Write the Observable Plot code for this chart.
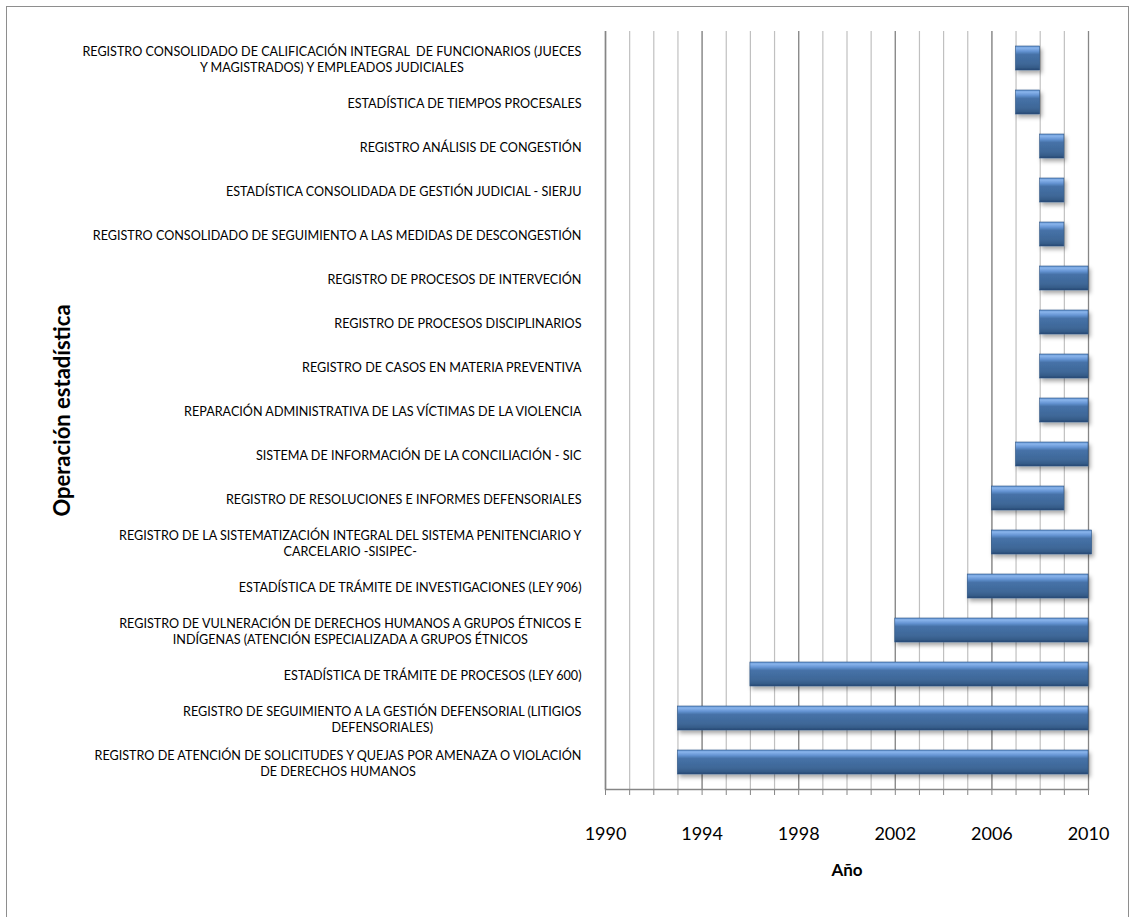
<!DOCTYPE html>
<html>
<head>
<meta charset="utf-8">
<script src="https://cdn.jsdelivr.net/npm/d3@7"></script>
<script src="https://cdn.jsdelivr.net/npm/@observablehq/plot@0.6"></script>
<style>
  html, body { margin: 0; padding: 0; background: #fff; }
  #wrap { position: relative; width: 1132px; height: 917px; overflow: hidden; }
  #border { position: absolute; left: 6px; top: 6px; width: 1123px; height: 940px; border: 1px solid #8e8e8e; box-sizing: border-box; pointer-events: none; }
  svg { font-family: Lato, "Open Sans", sans-serif; }
</style>
</head>
<body>
<div id="wrap"><div id="border"></div></div>
<script>
const operaciones = [
  "REGISTRO CONSOLIDADO DE CALIFICACIÓN INTEGRAL  DE FUNCIONARIOS (JUECES\nY MAGISTRADOS) Y EMPLEADOS JUDICIALES",
  "ESTADÍSTICA DE TIEMPOS PROCESALES",
  "REGISTRO ANÁLISIS DE CONGESTIÓN",
  "ESTADÍSTICA CONSOLIDADA DE GESTIÓN JUDICIAL - SIERJU",
  "REGISTRO CONSOLIDADO DE SEGUIMIENTO A LAS MEDIDAS DE DESCONGESTIÓN",
  "REGISTRO DE PROCESOS DE INTERVECIÓN",
  "REGISTRO DE PROCESOS DISCIPLINARIOS",
  "REGISTRO DE CASOS EN MATERIA PREVENTIVA",
  "REPARACIÓN ADMINISTRATIVA DE LAS VÍCTIMAS DE LA VIOLENCIA",
  "SISTEMA DE INFORMACIÓN DE LA CONCILIACIÓN - SIC",
  "REGISTRO DE RESOLUCIONES E INFORMES DEFENSORIALES",
  "REGISTRO DE LA SISTEMATIZACIÓN INTEGRAL DEL SISTEMA PENITENCIARIO Y\nCARCELARIO -SISIPEC-",
  "ESTADÍSTICA DE TRÁMITE DE INVESTIGACIONES (LEY 906)",
  "REGISTRO DE VULNERACIÓN DE DERECHOS HUMANOS A GRUPOS ÉTNICOS E\nINDÍGENAS (ATENCIÓN ESPECIALIZADA A GRUPOS ÉTNICOS",
  "ESTADÍSTICA DE TRÁMITE DE PROCESOS (LEY 600)",
  "REGISTRO DE SEGUIMIENTO A LA GESTIÓN DEFENSORIAL (LITIGIOS\nDEFENSORIALES)",
  "REGISTRO DE ATENCIÓN DE SOLICITUDES Y QUEJAS POR AMENAZA O VIOLACIÓN\nDE DERECHOS HUMANOS"
];
const inicio = [2007, 2007, 2008, 2008, 2008, 2008, 2008, 2008, 2008, 2007, 2006, 2006, 2005, 2002, 1996, 1993, 1993];
const fin    = [2008, 2008, 2009, 2009, 2009, 2010, 2010, 2010, 2010, 2010, 2009, 2010.15, 2010, 2010, 2010, 2010, 2010];
const anios = d3.range(1990, 2011);
const aniosEtiqueta = [1990, 1994, 1998, 2002, 2006, 2010];
const tituloX = "Año";
const tituloY = "Operación estadística";

const data = operaciones.map((o, i) => ({operacion: o, inicio: inicio[i], fin: fin[i]}));

const defs = () => {
  const d = d3.create("svg:defs");
  const g = d.append("linearGradient").attr("id", "barGrad").attr("x1", 0).attr("y1", 0).attr("x2", 0).attr("y2", 1);
  [[0, "#5b8ccb"], [0.08, "#8ab5ec"], [0.22, "#6594d3"], [0.35, "#4672a8"], [0.75, "#3e6797"], [0.9, "#355b88"], [1, "#264670"]]
    .forEach(([o, c]) => g.append("stop").attr("offset", o).attr("stop-color", c));
  const f = d.append("filter").attr("id", "shadow").attr("x", "-10%").attr("y", "-30%").attr("width", "130%").attr("height", "180%");
  f.append("feDropShadow").attr("dx", 2).attr("dy", 3).attr("stdDeviation", 2).attr("flood-color", "#000").attr("flood-opacity", 0.35);
  return d.node();
};

const chart = Plot.plot({
  width: 1132,
  height: 917,
  marginLeft: 605,
  marginRight: 44,
  marginTop: 31,
  marginBottom: 128,
  style: {fontFamily: "Lato, 'Open Sans', sans-serif", background: "#fff"},
  x: {domain: [1990, 2010], label: null},
  y: {domain: operaciones, paddingInner: 0.45, paddingOuter: 0.225, axis: null},
  marks: [
    defs,
    Plot.gridX(anios, {stroke: "#c0c0c0", strokeOpacity: 1, strokeWidth: 1.2}),
    Plot.gridX(aniosEtiqueta, {stroke: "#868686", strokeOpacity: 1, strokeWidth: 1.2}),
    Plot.axisX({ticks: anios, tickSize: 6, tickPadding: 32, stroke: "#868686", fontSize: 18, fill: "#000",
      tickFormat: d => aniosEtiqueta.includes(d) ? String(d) : "", label: null}),
    Plot.ruleX([1990], {stroke: "#868686", strokeWidth: 1.5}),
    Plot.frame({anchor: "bottom", stroke: "#868686", strokeWidth: 1.5}),
    Plot.barX(data, {y: "operacion", x1: "inicio", x2: "fin", fill: "url(#barGrad)", stroke: "#2f5787", strokeWidth: 0.6, className: "bars"}),
    Plot.text(data, {y: "operacion", text: "operacion", frameAnchor: "left", dx: -24, textAnchor: "end",
      fontSize: 12.6, lineHeight: 1.27, fill: "#000", className: "ylabels"}),
    Plot.text([tituloY], {frameAnchor: "left", dx: -543, rotate: -90, textAnchor: "middle", fontSize: 22, fontWeight: "bold", fill: "#000"}),
    Plot.text([tituloX], {frameAnchor: "bottom", dy: 86, fontSize: 17, fontWeight: "bold", fill: "#000"})
  ]
});

document.getElementById("wrap").prepend(chart);

// shadow on bars
const bars = chart.querySelector("g.bars");
if (bars) bars.setAttribute("filter", "url(#shadow)");

// centre multi-line labels as blocks, right-aligned
chart.querySelectorAll("g.ylabels text").forEach(t => {
  if (t.querySelectorAll("tspan").length > 1) {
    const w = t.getBBox().width;
    t.setAttribute("text-anchor", "middle");
    t.setAttribute("transform", (t.getAttribute("transform") || "") + ` translate(${-w / 2},0)`);
  }
});
</script>
</body>
</html>
